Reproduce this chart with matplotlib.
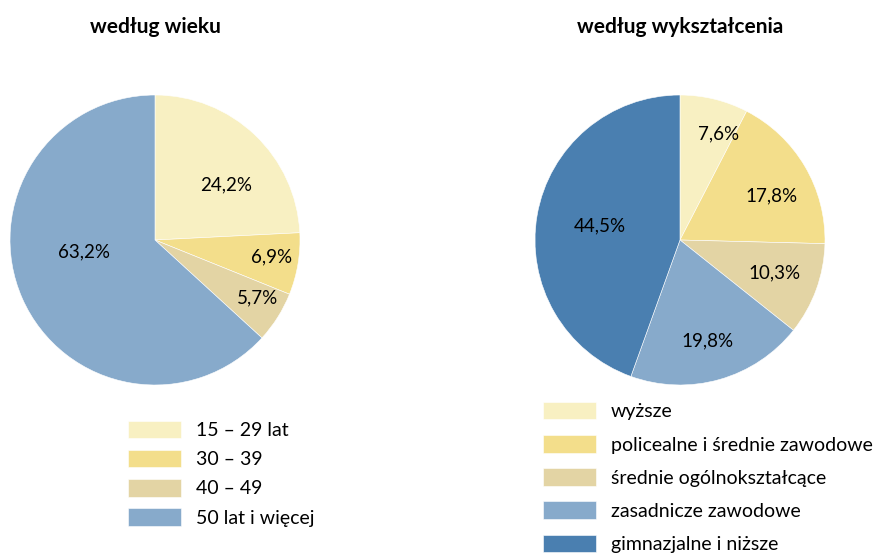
import numpy as np
import matplotlib
matplotlib.use("Agg")
import matplotlib.pyplot as plt

plt.rcParams['font.family'] = ['Lato', 'DejaVu Sans']

# dane
age_labels = ["15 – 29 lat", "30 – 39", "40 – 49", "50 lat i więcej"]
age_values = [24.2, 6.9, 5.7, 63.2]
age_colors = ["#F8F0C2", "#F3DE8B", "#E3D4A4", "#87AACB"]

edu_labels = ["wyższe", "policealne i średnie zawodowe", "średnie ogólnokształcące",
              "zasadnicze zawodowe", "gimnazjalne i niższe"]
edu_values = [7.6, 17.8, 10.3, 19.8, 44.5]
edu_colors = ["#F8F0C2", "#F3DE8B", "#E3D4A4", "#87AACB", "#4A7FB0"]

# polozenie etykiet: odleglosc (ulamek promienia) i przesuniecie kata (stopnie)
age_labdist = [0.62, 0.815, 0.81, 0.50]
age_labshift = [-8.6, 1.2, 2.6, -14]
edu_labdist = [0.78, 0.70, 0.69, 0.72, 0.56]
edu_labshift = [-6, -5, 0.8, -0.8, 0]

W, H = 884, 553
fig = plt.figure(figsize=(W / 100, H / 100), dpi=100)


def fmt(v):
    return ("%.1f%%" % v).replace(".", ",")


def draw_pie(rect, values, colors, labdist, labshift):
    ax = fig.add_axes(rect)
    wedges, _ = ax.pie(values, colors=colors, startangle=90, counterclock=False,
                       radius=1, wedgeprops=dict(edgecolor="white", linewidth=0.4))
    for w, v, d, s in zip(wedges, values, labdist, labshift):
        ang = np.deg2rad((w.theta1 + w.theta2) / 2 + s)
        ax.text(d * np.cos(ang), d * np.sin(ang), fmt(v), ha="center", va="center",
                fontsize=13.5, color="black")
    ax.set_xlim(-1, 1)
    ax.set_ylim(-1, 1)
    ax.set_aspect("equal")
    ax.axis("off")
    return wedges


def px_rect(cx, cy, r):
    return [(cx - r) / W, (H - cy - r) / H, 2 * r / W, 2 * r / H]


w1 = draw_pie(px_rect(155, 240, 145), age_values, age_colors, age_labdist, age_labshift)
w2 = draw_pie(px_rect(680, 240, 145), edu_values, edu_colors, edu_labdist, edu_labshift)

fig.text(155 / W, 1 - 27 / H, "według wieku", ha="center", va="center",
         fontsize=15, fontweight="bold")
fig.text(680 / W, 1 - 27 / H, "według wykształcenia", ha="center", va="center",
         fontsize=15, fontweight="bold")

fig.legend(w1, age_labels, loc="upper left", bbox_to_anchor=(128 / W, 1 - 421 / H),
           frameon=False, fontsize=14, handlelength=2.7, handleheight=1.0,
           labelspacing=0.55, handletextpad=0.8, borderpad=0, borderaxespad=0)
fig.legend(w2, edu_labels, loc="upper left", bbox_to_anchor=(543 / W, 1 - 402 / H),
           frameon=False, fontsize=14, handlelength=2.7, handleheight=1.0,
           labelspacing=0.76, handletextpad=0.8, borderpad=0, borderaxespad=0)

fig.savefig("out.png", dpi=100)
